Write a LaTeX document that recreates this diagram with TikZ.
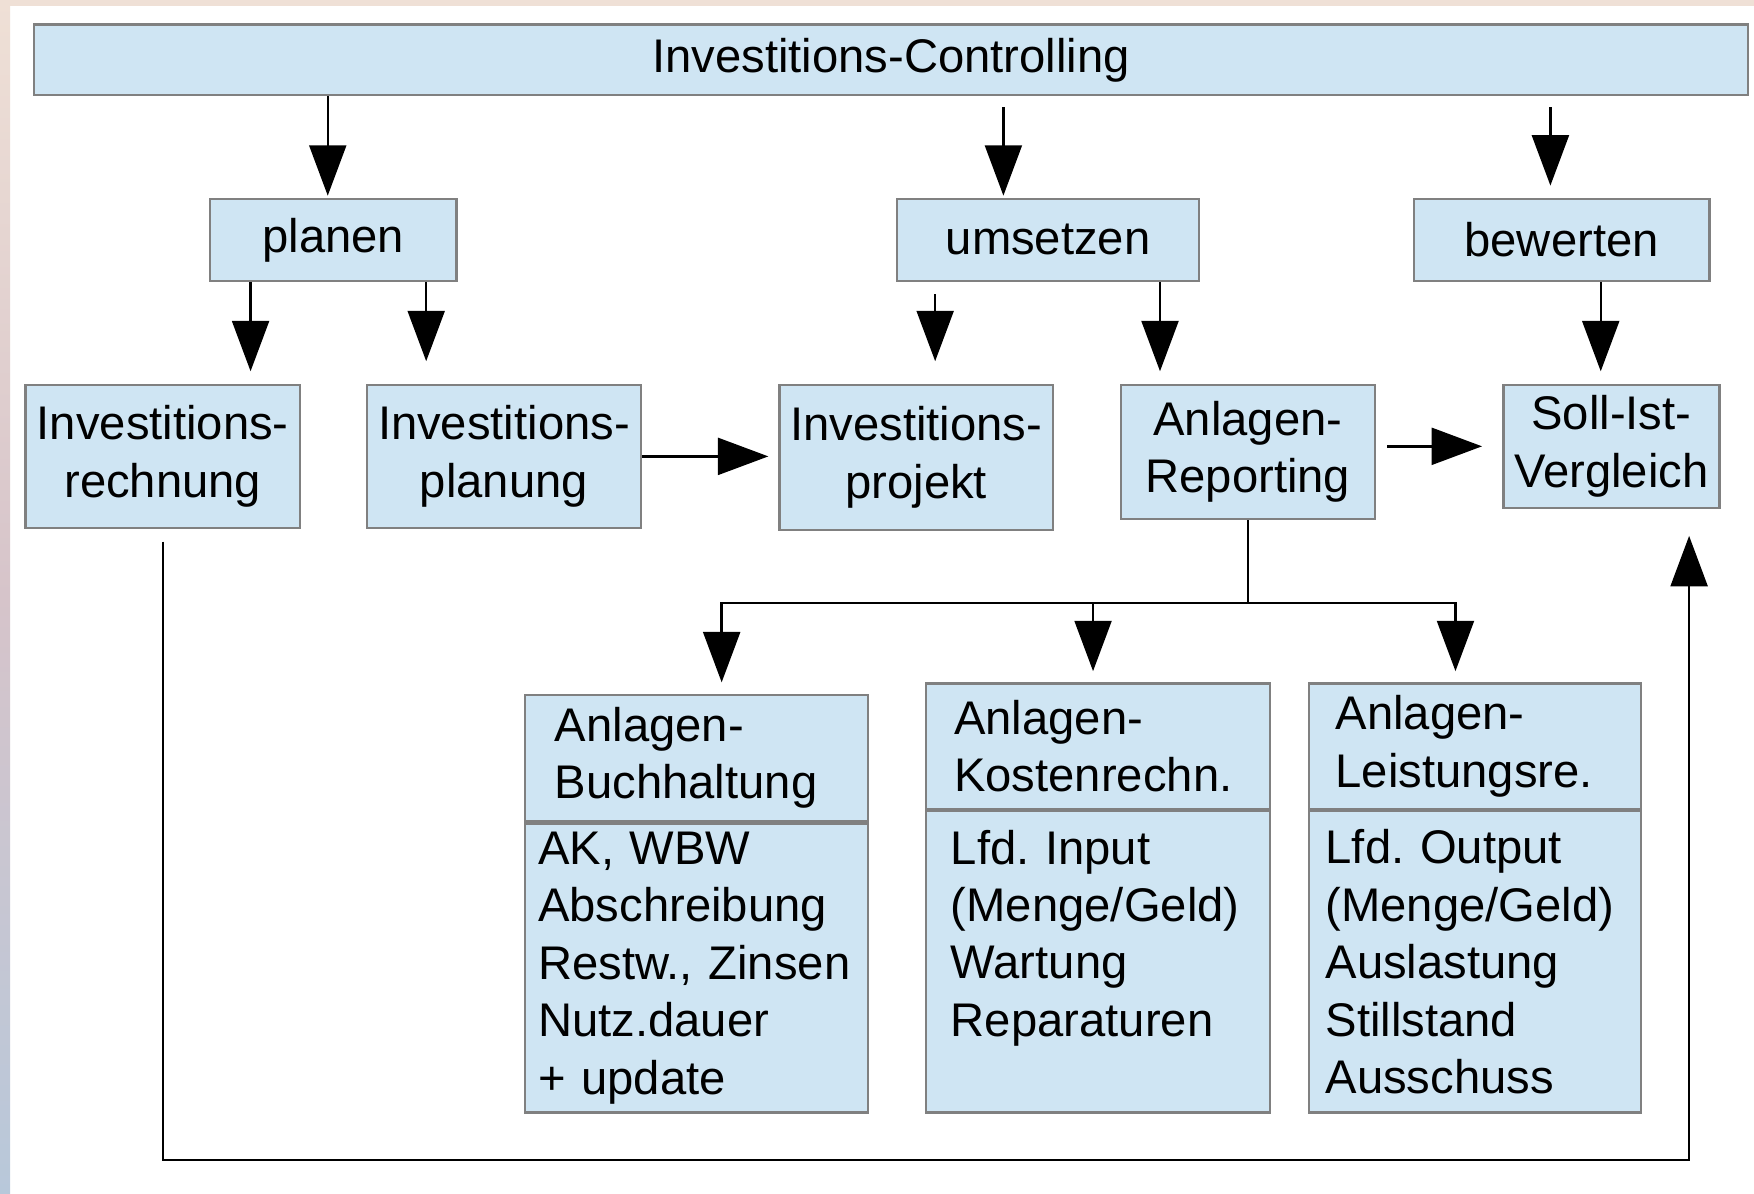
\documentclass[tikz,border=0pt]{standalone}
\usepackage{fontspec}
\setmainfont{Liberation Sans}
\frenchspacing
\usetikzlibrary{arrows.meta,calc,positioning}
\definecolor{boxfill}{RGB}{207,229,243}
\definecolor{boxline}{RGB}{128,128,128}
\definecolor{edgetop}{RGB}{239,224,214}
\definecolor{edgemid}{RGB}{214,196,202}
\definecolor{edgebot}{RGB}{184,200,218}
\tikzset{
  box/.style={draw=boxline, fill=boxfill, line width=0.6pt, inner sep=0pt, align=center,
    font=\fontsize{12pt}{14.6pt}\selectfont},
  head/.style={box, anchor=north west, align=left},
  arr/.style={-{Triangle[length=0.45cm,width=0.33cm]}, line width=0.6pt},
}
\begin{document}
\begin{tikzpicture}[x=0.01cm, y=-0.01cm]
\fill[white] (0,0) rectangle (1568,1067);
\useasboundingbox (0,0) rectangle (1568,1067);
\shade[top color=edgetop, bottom color=edgebot, middle color=edgemid] (0,0) rectangle (9,1067);
\fill[edgetop] (0,0) rectangle (1568,5);
% top rows
\node[box, minimum width=15.31cm, minimum height=0.63cm] (ctrl) at (796.5,53.5) {Investitions-Controlling};
\node[box, minimum width=2.2cm, minimum height=0.73cm] (planen) at (298,214.5) {planen};
\node[box, minimum width=2.7cm, minimum height=0.73cm] (umsetzen) at (937,214.5) {umsetzen};
\node[box, minimum width=2.64cm, minimum height=0.73cm] (bewerten) at (1396,214.5) {bewerten};
% middle row
\node[box, minimum width=2.45cm, minimum height=1.28cm] (irech) at (145.5,408) {Investitions-\\rechnung};
\node[box, minimum width=2.45cm, minimum height=1.28cm] (iplan) at (450.5,408) {Investitions-\\planung};
\node[box, minimum width=2.44cm, minimum height=1.3cm] (iproj) at (819,409) {Investitions-\\projekt};
\node[box, minimum width=2.27cm, minimum height=1.2cm] (arep) at (1115.5,404) {Anlagen-\\Reporting};
\node[box, minimum width=1.93cm, minimum height=1.1cm] (soll) at (1440.5,399) {Soll-Ist-\\Vergleich};
% bottom row
\node[head, inner xsep=0.27cm, text width=2.53cm, minimum height=1.13cm] (buch) at (468,620) {Anlagen-\\Buchhaltung};
\node[head, inner xsep=0.12cm, text width=2.83cm, minimum height=2.58cm] (buchinfo) at (buch.south west)
  {AK, WBW\\Abschreibung\\Restw., Zinsen\\Nutz.dauer\\+ update};
\node[head, inner xsep=0.25cm, text width=2.57cm, minimum height=1.12cm] (kost) at (827,610) {Anlagen-\\Kostenrechn.};
\node[head, inner xsep=0.22cm, text width=2.63cm, minimum height=2.69cm] (kostinfo) at (kost.south west)
  {Lfd. Input\\(Menge/Geld)\\Wartung\\Reparaturen\\\mbox{}};
\node[head, inner xsep=0.24cm, text width=2.49cm, minimum height=1.12cm] (leist) at (1169,610) {Anlagen-\\Leistungsre.};
\node[head, inner xsep=0.15cm, text width=2.67cm, minimum height=2.69cm] (leistinfo) at (leist.south west)
  {Lfd. Output\\(Menge/Geld)\\Auslastung\\Stillstand\\Ausschuss};
% vertical arrows
\foreach \up/\low/\dx/\sa/\sb in {ctrl/planen/-5/0cm/0.02cm, ctrl/umsetzen/-40/0.1cm/0.02cm,
  ctrl/bewerten/-10/0.1cm/0.11cm, planen/irech/78.5/0cm/0.11cm, planen/iplan/-69.5/0cm/0.2cm,
  umsetzen/iproj/17/0.11cm/0.2cm, umsetzen/arep/-78.5/0cm/0.11cm, bewerten/soll/-9.5/0cm/0.11cm}
{
  \coordinate (tip) at ($(\low.north)+(\dx,0)$);
  \draw[arr, shorten <=\sa, shorten >=\sb] (tip |- \up.south) -- (tip);
}
% horizontal arrows
\draw[arr, shorten >=0.09cm] (iplan.east) -- (iplan.east -| iproj.west);
\draw[arr, shorten <=0.1cm, shorten >=0.18cm] (soll.west -| arep.east) -- (soll.west);
% reporting branches
\draw[line width=0.6pt] (arep.south) -- ++(0,74) coordinate (split);
\foreach \low/\dx in {buch/22.5, kost/-4.5, leist/-17.5}
  \draw[arr, shorten >=0.1cm] (split) -| ($(\low.north)+(\dx,0)$);
% feedback
\coordinate (fb) at (0,1037);
\draw[arr, shorten <=0.11cm, shorten >=0.24cm] (irech.south) -- (irech.south |- fb) -| ($(soll.south)+(69.5,0)$);
\end{tikzpicture}
\end{document}
